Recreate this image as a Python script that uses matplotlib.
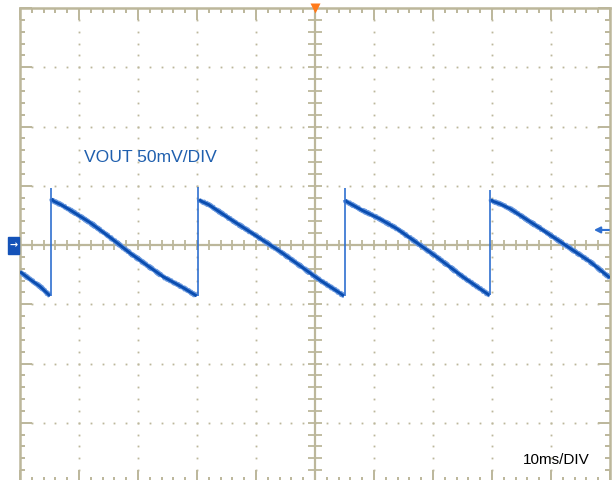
import numpy as np
import matplotlib.pyplot as plt

plt.rcParams['font.family'] = ['Liberation Sans', 'DejaVu Sans']

# Oscilloscope trace, time in ms (10 ms/div), voltage in mV (50 mV/div)
# each ramp segment, jump instants listed separately
ramp0_t = [0.0, 1.7, 3.4, 5.1]
ramp0_v = [-22.5, -29.0, -35.0, -43.0]

ramp1_t = [5.35, 5.7, 6.95, 8.5, 11.85, 15.25, 18.65, 21.5, 24.25, 27.65, 29.95]
ramp1_v = [39.0, 37.0, 34.0, 29.5, 19.0, 6.5, -6.8, -17.0, -26.7, -36.0, -43.0]

ramp2_t = [30.35, 30.7, 32.0, 35.6, 40.1, 44.1, 46.9, 50.8, 54.2, 54.9]
ramp2_v = [38.5, 37.0, 34.0, 22.0, 7.5, -5.5, -15.5, -29.5, -40.5, -43.0]

ramp3_t = [55.1, 55.4, 58.1, 61.0, 63.8, 66.1, 70.6, 75.1, 79.1, 79.6]
ramp3_v = [38.0, 36.5, 29.0, 22.0, 14.0, 6.0, -10.0, -27.0, -40.8, -42.5]

ramp4_t = [79.8, 80.1, 81.4, 83.1, 88.1, 92.4, 96.6, 100.0]
ramp4_v = [38.5, 37.0, 34.6, 30.5, 14.3, 0.0, -14.0, -27.8]

jump_t = [5.25, 30.25, 55.0, 79.7]
jump_lo = [-43.0, -43.0, -43.0, -42.5]
jump_hi = [48.0, 48.7, 47.8, 46.0]

trig_level = 12.7  # mV, arrow on right edge

grid_col = '#bcb79b'
trace_col = '#0a4db0'

fig = plt.figure(figsize=(6.15, 4.8), dpi=100)
ax = fig.add_axes([20 / 615, -2 / 480, 590 / 615, 474 / 480])
ax.set_xlim(0, 100)
ax.set_ylim(-200, 200)

# graticule: dotted grid lines every division, dots every 0.2 div
fine_x = np.arange(0, 100.01, 2)
fine_y = np.arange(-200, 200.01, 10)
for gx in range(10, 100, 10):
    if gx != 50:
        ax.plot([gx] * len(fine_y), fine_y, ls='none', marker='s', ms=1.3,
                mec='none', mfc=grid_col, zorder=1)
for gy in range(-150, 200, 50):
    if gy != 0:
        ax.plot(fine_x, [gy] * len(fine_x), ls='none', marker='s', ms=1.3,
                mec='none', mfc=grid_col, zorder=1)

# centre crosshair with ticks
ax.axhline(0, color=grid_col, lw=1.6, zorder=1)
ax.axvline(50, color=grid_col, lw=1.6, zorder=1)
ax.vlines(fine_x, -4.4, 4.4, color=grid_col, lw=1.3, zorder=1)
ax.hlines(fine_y, 48.8, 51.2, color=grid_col, lw=1.3, zorder=1)

# border ticks
ax.set_xticks(np.arange(0, 101, 10))
ax.set_yticks(np.arange(-200, 201, 50))
ax.set_xticks(fine_x, minor=True)
ax.set_yticks(fine_y, minor=True)
ax.tick_params(which='both', direction='in', top=True, right=True,
               labelbottom=False, labelleft=False, color=grid_col, width=1.4)
ax.tick_params(which='major', length=8.5)
ax.tick_params(which='minor', length=3.8)
for sp in ax.spines.values():
    sp.set_color(grid_col)
    sp.set_linewidth(1.8)

# trace (light sketch jitter for the noisy scope look)
for t, v in [(ramp0_t, ramp0_v), (ramp1_t, ramp1_v), (ramp2_t, ramp2_v),
             (ramp3_t, ramp3_v), (ramp4_t, ramp4_v)]:
    halo, = ax.plot(t, v, color='#6d9be0', lw=3.1, solid_joinstyle='round',
                    solid_capstyle='butt', zorder=3)
    core, = ax.plot(t, v, color=trace_col, lw=2.1, solid_joinstyle='round',
                    solid_capstyle='butt', zorder=4)
    halo.set_sketch_params(0.9, 2.5, 1.5)
ax.vlines(jump_t, jump_lo, jump_hi, color='#2f6fd0', lw=1.2, zorder=4)

# markers
ax.annotate('', xy=(96.8, trig_level), xytext=(100.3, trig_level),
            arrowprops=dict(arrowstyle='-|>', color='#2f6fd0', lw=1.5,
                            mutation_scale=9),
            annotation_clip=False, zorder=5)
fig.patches.append(plt.Rectangle((8 / 615, 1 - 254 / 480), 11 / 615, 17 / 480,
                                 transform=fig.transFigure, color='#1452b8'))
fig.text(13.5 / 615, 1 - 245.5 / 480, '→', color='white', fontsize=7,
         ha='center', va='center', family=['DejaVu Sans'], weight='bold')
ax.plot([50], [200], marker='v', ms=7, color='#ff7a1a', mec='none',
        clip_on=False, zorder=6)

fig.text(84 / 615, 1 - 157 / 480, 'VOUT 50mV/DIV', color='#1f5fae',
         fontsize=12.6, ha='left', va='center')
fig.text(590 / 615, 1 - 460 / 480, '10ms/DIV', color='black',
         fontsize=11, ha='right', va='center')

fig.savefig('out.png', dpi=100)
